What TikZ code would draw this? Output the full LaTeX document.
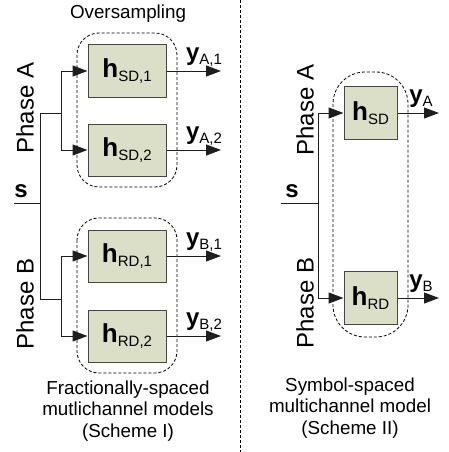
\documentclass[tikz,border=0pt]{standalone}
\usepackage{fontspec}
\setmainfont{Liberation Sans}
\usetikzlibrary{arrows.meta}
\definecolor{boxfill}{RGB}{220,223,200}
\definecolor{boxline}{RGB}{70,70,70}
\definecolor{wire}{RGB}{30,30,30}
\tikzset{
  chan/.style={draw=boxline, fill=boxfill, line width=1pt, minimum width=78pt, minimum height=52pt, inner sep=0pt, font=\fontsize{26}{28}\selectfont},
  chansq/.style={chan, minimum width=53pt, minimum height=53pt},
  wireline/.style={draw=wire, line width=1pt},
  arr/.style={wireline, -{Triangle[length=15pt,width=11pt]}},
  grp/.style={draw=black, dashed, dash pattern=on 3pt off 2pt, line width=0.8pt},
  lbl/.style={font=\fontsize{18.8}{21.6}\selectfont, align=center, inner sep=0pt},
  phase/.style={font=\fontsize{24}{26}\selectfont, rotate=90, inner sep=0pt},
  sig/.style={font=\fontsize{24}{26}\selectfont, inner sep=0pt},
}
\newcommand{\chl}[2]{$\mathbf{#1}$\raisebox{-3.5pt}{\fontsize{15}{17}\selectfont #2}}
\begin{document}
\begin{tikzpicture}[x=1pt,y=-1pt]
\useasboundingbox (0,0) rectangle (449,452);
% divider
\draw[grp] (240,0) -- (240,452);
% ---------- Scheme I ----------
\node[lbl] (over) at (128,14) {Oversampling};
\draw[grp, rounded corners=22pt] (77,33) rectangle (177,187);
\draw[grp, rounded corners=22pt] (77,218) rectangle (177,373);
\node[chan] (sd1) at (127,71) {\chl{h}{SD,1}};
\node[chan] (sd2) at (127,150) {\chl{h}{SD,2}};
\node[chan] (rd1) at (127,256) {\chl{h}{RD,1}};
\node[chan] (rd2) at (127,336) {\chl{h}{RD,2}};
\coordinate (ja) at (40,113);
\coordinate (jb) at (40,299);
\coordinate (js) at (40,203);
\coordinate (sin) at (14,203);
\coordinate (ba) at (61,113);
\coordinate (bb) at (61,299);
\draw[wireline] (ja) -- (jb);
\draw[wireline] (sin) -- (js);
\draw[wireline] (ja) -- (ba);
\draw[wireline] (jb) -- (bb);
\draw[arr] (ba) |- (sd1.west);
\draw[arr] (ba) |- (sd2.west);
\draw[arr] (bb) |- (rd1.west);
\draw[arr] (bb) |- (rd2.west);
\coordinate (oa1) at (221,71);
\coordinate (oa2) at (221,150);
\coordinate (ob1) at (221,256);
\coordinate (ob2) at (221,336);
\draw[arr] (sd1.east) -- (oa1);
\draw[arr] (sd2.east) -- (oa2);
\draw[arr] (rd1.east) -- (ob1);
\draw[arr] (rd2.east) -- (ob2);
\node[sig] (ya1) at (204,57) {\chl{y}{A,1}};
\node[sig] (ya2) at (204,136) {\chl{y}{A,2}};
\node[sig] (yb1) at (204,242) {\chl{y}{B,1}};
\node[sig] (yb2) at (204,322) {\chl{y}{B,2}};
\node[sig] (sL) at (21,191) {$\mathbf{s}$};
\node[phase] (paL) at (25,108) {Phase A};
\node[phase] (pbL) at (25,304) {Phase B};
\node[lbl] (capL) at (128,411) {Fractionally-spaced\\mutlichannel models\\(Scheme I)};
% ---------- Scheme II ----------
\draw[grp, rounded corners=32pt] (333,72) rectangle (408,337);
\node[chansq] (sd) at (370.5,113) {\chl{h}{SD}};
\node[chansq] (rd) at (370.5,298) {\chl{h}{RD}};
\coordinate (ra) at (318,113);
\coordinate (rb) at (318,298);
\coordinate (rs) at (318,203);
\coordinate (rsin) at (281,203);
\draw[wireline] (ra) -- (rb);
\draw[wireline] (rsin) -- (rs);
\draw[arr] (ra) -- (sd.west);
\draw[arr] (rb) -- (rd.west);
\coordinate (oa) at (439,113);
\coordinate (ob) at (439,298);
\draw[arr] (sd.east) -- (oa);
\draw[arr] (rd.east) -- (ob);
\node[sig] (ya) at (421,99) {\chl{y}{A}};
\node[sig] (yb) at (421,284) {\chl{y}{B}};
\node[sig] (sR) at (292,191) {$\mathbf{s}$};
\node[phase] (paR) at (305,110) {Phase A};
\node[phase] (pbR) at (305,303) {Phase B};
\node[lbl] (capR) at (350,408) {Symbol-spaced\\multichannel model\\(Scheme II)};
\end{tikzpicture}
\end{document}
